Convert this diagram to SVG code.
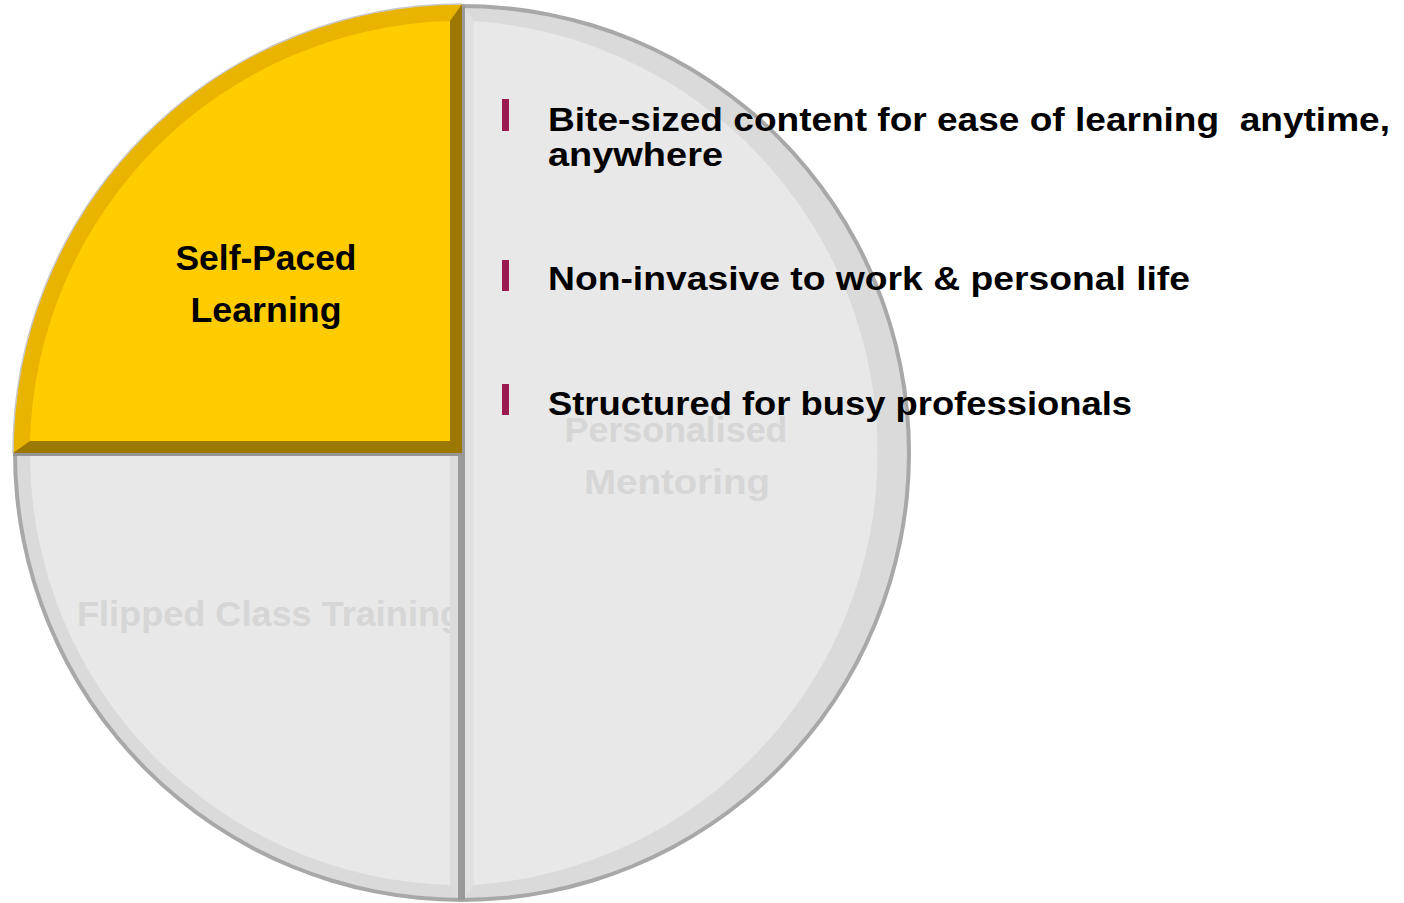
<svg xmlns="http://www.w3.org/2000/svg" width="1404" height="903" viewBox="0 0 1404 903">
<style>
.b{font-family:"Liberation Sans",Arial,sans-serif;font-weight:bold;fill:#000;font-size:34px}
.f{font-family:"Liberation Sans",Arial,sans-serif;font-weight:bold;fill:#D6D6D6;font-size:35px}
.y{font-family:"Liberation Sans",Arial,sans-serif;font-weight:bold;fill:#000;font-size:35px}
.bar{fill:#9B1B50}
</style>
<rect width="1404" height="903" fill="#fff"/>
<g id="right-half">
<path d="M462,453 L462,4 A449,449 0 0 1 462,902 Z" fill="#A8A8A8"/>
<path d="M462,453 L462,8 A445,445 0 0 1 462,898 Z" fill="#DADADA"/>
<path d="M474,453 L474,21 A433,433 0 0 1 474,885 Z" fill="#E8E8E8"/>
<path d="M465,8 L465,898 L474,885 L474,21 Z" fill="#E0E0E0"/>
<rect x="462" y="6" width="3" height="894" fill="#999"/>
<text class="f" text-anchor="middle" x="676" y="442" textLength="223" lengthAdjust="spacingAndGlyphs">Personalised</text>
<text class="f" text-anchor="middle" x="677" y="494" textLength="186" lengthAdjust="spacingAndGlyphs">Mentoring</text>
</g>
<g id="bottom-left">
<path d="M462,453 L13,453 A449,449 0 0 0 462,902 Z" fill="#A8A8A8"/>
<path d="M462,453 L17,453 A445,445 0 0 0 462,898 Z" fill="#DADADA"/>
<path d="M450,456 L30,456 A432,432 0 0 0 450,885 Z" fill="#E8E8E8"/>
<text class="f" x="77" y="626" textLength="385" lengthAdjust="spacingAndGlyphs">Flipped Class Training</text>
<path d="M450,456 L458,456 L458,898 L450,885 Z" fill="#DCDCDC"/>
<rect x="458" y="453" width="4" height="447" fill="#9A9A9A"/>
<rect x="13" y="453" width="449" height="3" fill="#959595"/>
</g>
<g id="self-paced">
<path d="M462,453 L462,4 A449,449 0 0 0 13,453 Z" fill="#E8B400"/>
<path d="M462,4 L462,453 L13,453 L30,441 L450,441 L450,21 Z" fill="#9C7800"/>
<path d="M450,441 L450,21 A432,432 0 0 0 30,441 Z" fill="#FFCC00"/>
<path d="M13,453 A449,449 0 0 1 462,4" fill="none" stroke="#C8C8C8" stroke-width="1.5"/>
<text class="y" text-anchor="middle" x="266" y="270" textLength="181" lengthAdjust="spacingAndGlyphs">Self-Paced</text>
<text class="y" text-anchor="middle" x="266" y="322" textLength="151" lengthAdjust="spacingAndGlyphs">Learning</text>
</g>
<g id="bullets">
<rect class="bar" x="502" y="99" width="7" height="32"/>
<rect class="bar" x="502" y="260" width="7" height="31"/>
<rect class="bar" x="502" y="384" width="7" height="31"/>
<text class="b" x="548" y="131" textLength="842" lengthAdjust="spacingAndGlyphs">Bite-sized content for ease of learning &#160;anytime,</text>
<text class="b" x="548" y="166" textLength="175" lengthAdjust="spacingAndGlyphs">anywhere</text>
<text class="b" x="548" y="290" textLength="642" lengthAdjust="spacingAndGlyphs">Non-invasive to work &amp; personal life</text>
<text class="b" x="548" y="415" textLength="584" lengthAdjust="spacingAndGlyphs">Structured for busy professionals</text>
</g>
</svg>
